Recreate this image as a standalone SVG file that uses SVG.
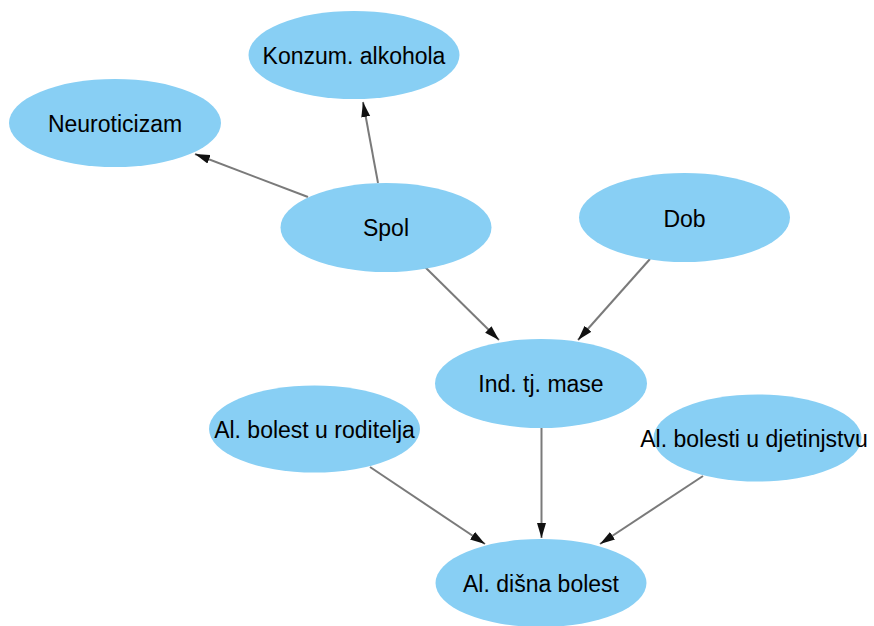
<svg xmlns="http://www.w3.org/2000/svg" width="874" height="626" viewBox="0 0 874 626">
<style>
.node ellipse{fill:#88CFF4;stroke:none}
.node text{font-family:"Liberation Sans",Arial,sans-serif;font-size:23px;fill:#000;text-anchor:middle}
.edges line{stroke:#7a7a7a;stroke-width:2;marker-end:url(#arr)}
</style>
<defs>
<marker id="arr" markerUnits="userSpaceOnUse" markerWidth="15" markerHeight="10" refX="15" refY="5" orient="auto">
<path d="M0,0.5 L15,5 L0,9.5 z" fill="#111"/>
</marker>
</defs>
<rect width="874" height="626" fill="#fff"/>
<g class="edges">
<line x1="378" y1="183" x2="363" y2="102"/>
<line x1="308" y1="197" x2="195" y2="154"/>
<line x1="425" y1="267" x2="499" y2="340"/>
<line x1="650" y1="259" x2="578" y2="340"/>
<line x1="541.5" y1="428" x2="541.5" y2="538"/>
<line x1="370" y1="467" x2="485" y2="544"/>
<line x1="703" y1="476" x2="600" y2="544"/>
</g>
<g id="konzum" class="node"><ellipse cx="354" cy="55" rx="105.5" ry="44"/><text x="354" y="63.5">Konzum. alkohola</text></g>
<g id="neuroticizam" class="node"><ellipse cx="115" cy="123" rx="106" ry="44"/><text x="115" y="132">Neuroticizam</text></g>
<g id="spol" class="node"><ellipse cx="386" cy="227.5" rx="105.5" ry="44.5"/><text x="386" y="236">Spol</text></g>
<g id="dob" class="node"><ellipse cx="684.5" cy="217.5" rx="105.5" ry="44.5"/><text x="684.5" y="226.5">Dob</text></g>
<g id="ind" class="node"><ellipse cx="541" cy="383.5" rx="106" ry="44.5"/><text x="541" y="392">Ind. tj. mase</text></g>
<g id="roditelja" class="node"><ellipse cx="314.5" cy="429" rx="105.5" ry="43.5"/><text x="314.5" y="437.5">Al. bolest u roditelja</text></g>
<g id="djetinjstvu" class="node"><ellipse cx="757.5" cy="438" rx="104" ry="43.5"/><text x="754" y="447">Al. bolesti u djetinjstvu</text></g>
<g id="disna" class="node"><ellipse cx="541" cy="583" rx="105.5" ry="44"/><text x="541" y="592">Al. dišna bolest</text></g>
</svg>
